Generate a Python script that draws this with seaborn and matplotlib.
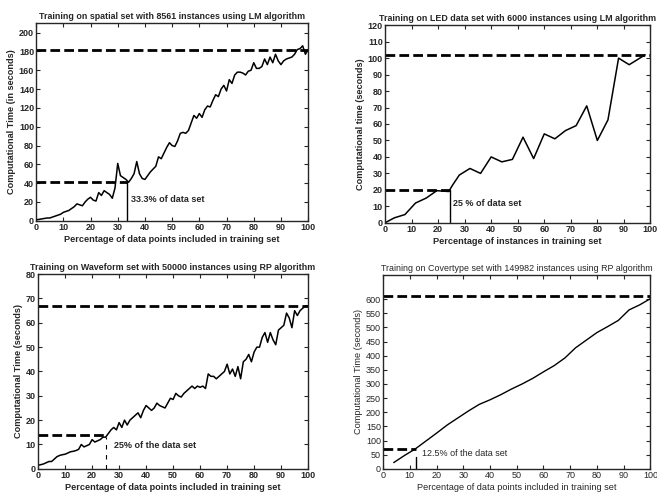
import numpy as np
import pandas as pd
import seaborn as sns
import matplotlib.pyplot as plt

sns.set_style("ticks")
plt.rcParams['font.family'] = ['Liberation Sans', 'DejaVu Sans']

# spatial set, LM
spatial_x = list(range(0, 101))
spatial_y = [1, 1.5, 2, 2.5, 3, 3, 4, 5, 6, 7, 9, 10, 11, 13, 15, 18, 17, 16, 20, 23,
             25, 22, 21, 30, 27, 32, 30, 28, 24, 35, 61, 48, 46, 44, 41, 45, 50, 63, 50, 45,
             44, 48, 52, 55, 58, 68, 66, 72, 78, 83, 80, 79, 85, 93, 94, 93, 96, 104, 112, 109,
             114, 110, 118, 122, 121, 128, 134, 132, 140, 144, 138, 150, 146, 155, 158, 158, 157, 155, 159, 160,
             168, 162, 162, 164, 172, 166, 174, 168, 177, 170, 166, 170, 172, 173, 174, 177, 182, 183, 186, 177,
             182]

# LED data set, LM
led_x = [0, 3.5, 7.5, 11.5, 15.5, 19.5, 24, 25.5, 28, 32, 36, 40, 44, 48, 52, 56, 60, 64, 68, 72, 76, 80, 84, 88, 92, 98]
led_y = [0, 3, 5, 12, 15, 19.5, 19, 23, 29, 33, 30, 40, 37, 38.5, 52, 39, 54, 51, 56, 59, 71, 50, 62.5, 100, 96, 102]

# Waveform set, RP
wave_x = list(range(0, 101))
wave_y = [1.5, 1.7, 2, 2.5, 3, 3, 4, 5, 5.5, 5.8, 6, 6.5, 7, 7.2, 7.5, 8, 10, 9, 9.5, 10,
          12, 11, 11.5, 12, 13, 13, 14.5, 16, 17, 16, 19, 17, 20, 18, 20, 21, 22, 23, 21, 24,
          26, 25, 24, 25, 27, 26, 25.5, 25, 27, 29, 28.5, 31, 30, 29.5, 31, 32, 33, 34, 33, 34,
          33.5, 34, 33, 39, 38, 38, 37, 38, 39, 40, 43, 39, 41, 38, 42, 37, 44, 45, 47, 44,
          48, 50, 50, 54, 56, 52, 56, 53, 51, 57, 58, 59, 64, 62, 58, 65, 63, 65, 66, 67,
          67]

# Covertype set, RP
cover_x = [4, 8, 12, 16, 20, 24, 28, 32, 36, 40, 44, 48, 52, 56, 60, 64, 68, 72, 76, 80, 84, 88, 92, 96, 100]
cover_y = [22, 47, 70, 98, 126, 155, 180, 205, 228, 244, 262, 282, 300, 320, 343, 365, 392, 428, 455, 482,
           503, 525, 562, 580, 602]

fig = plt.figure(figsize=(6.57, 4.94), dpi=100)
ax1 = fig.add_axes([0.055, 0.553, 0.414, 0.400])
ax2 = fig.add_axes([0.586, 0.549, 0.404, 0.400])
ax3 = fig.add_axes([0.058, 0.051, 0.411, 0.394])
ax4 = fig.add_axes([0.583, 0.051, 0.407, 0.392])

fs = 6.5
dash = dict(color='black', lw=2.0, ls=(0, (3.5, 1.5)))


def style(ax, ylim, yticks, title, xlabel, ylabel, weight='bold'):
    ax.set_xlim(0, 100)
    ax.set_ylim(*ylim)
    ax.set_xticks(range(0, 101, 10))
    ax.set_yticks(yticks)
    ax.tick_params(direction='in', top=True, right=True, labelsize=fs, length=3, width=0.8, pad=1.5)
    for lab in ax.get_xticklabels() + ax.get_yticklabels():
        lab.set_fontweight(weight)
    for s in ax.spines.values():
        s.set_visible(True)
        s.set_linewidth(1.0)
    ax.set_title(title, fontsize=6.4, fontweight=weight, pad=3)
    ax.set_xlabel(xlabel, fontsize=6.6, fontweight=weight, labelpad=2)
    ax.set_ylabel(ylabel, fontsize=6.6, fontweight=weight, labelpad=2)


# top left
sns.lineplot(x=spatial_x, y=spatial_y, ax=ax1, color='black', lw=1.1)
ax1.axhline(182, **dash)
ax1.plot([0, 33.3], [41, 41], **dash)
ax1.plot([33.3, 33.3], [0, 41], color='black', lw=1.0)
ax1.text(35, 20, '33.3% of data set', fontsize=fs, fontweight='bold')
style(ax1, (0, 210), range(0, 201, 20),
      'Training on spatial set with 8561 instances using LM algorithm',
      'Percentage of data points included in training set',
      'Computational Time (in seconds)')

# top right
sns.lineplot(x=led_x, y=led_y, ax=ax2, color='black', lw=1.1)
ax2.axhline(102, **dash)
ax2.plot([0, 24.5], [20, 20], **dash)
ax2.plot([24.5, 24.5], [0, 20], color='black', lw=1.0)
ax2.text(25.5, 10.5, '25 % of data set', fontsize=fs, fontweight='bold')
style(ax2, (0, 120), range(0, 121, 10),
      'Training on LED data set with 6000 instances using LM algorithm',
      'Percentage of instances in training set',
      'Computational time (seconds)')

# bottom left
sns.lineplot(x=wave_x, y=wave_y, ax=ax3, color='black', lw=1.1)
ax3.axhline(67, **dash)
ax3.plot([0, 25], [14, 14], **dash)
ax3.plot([25, 25], [0, 13], color='black', lw=0.8, ls=(0, (4, 5)))
ax3.text(28, 8.5, '25% of the data set', fontsize=fs, fontweight='bold')
style(ax3, (0, 80), range(0, 81, 10),
      'Training on Waveform set with 50000 instances using RP algorithm',
      'Percentage of data points included in training set',
      'Computational Time (seconds)')

# bottom right
sns.lineplot(x=cover_x, y=cover_y, ax=ax4, color='black', lw=1.0)
ax4.axhline(612, **dash)
ax4.plot([0, 12.5], [70, 70], **dash)
ax4.plot([12.5, 12.5], [0, 40], color='black', lw=1.0)
ax4.text(14.5, 45, '12.5% of the data set', fontsize=fs)
style(ax4, (0, 685), range(0, 601, 50),
      'Training on Covertype set with 149982 instances using RP algorithm',
      'Percentage of data points included in training set',
      'Computational Time (seconds)', weight='normal')

fig.savefig('out.png', dpi=100)
